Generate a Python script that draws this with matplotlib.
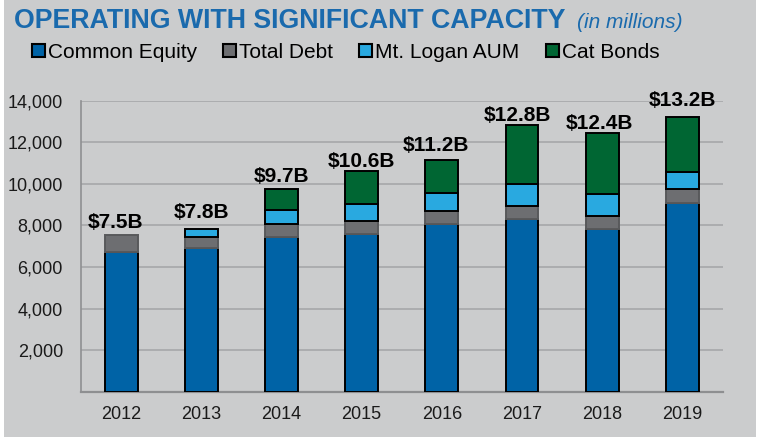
import matplotlib
matplotlib.use("Agg")
import matplotlib.pyplot as plt
from matplotlib.patches import Patch, Rectangle
import numpy as np

plt.rcParams['font.family'] = ['Liberation Sans', 'DejaVu Sans']

# Data (in millions)
years = ['2012', '2013', '2014', '2015', '2016', '2017', '2018', '2019']
common_equity = [6700, 6930, 7430, 7590, 8060, 8330, 7815, 9100]
total_debt = [860, 500, 640, 640, 640, 625, 660, 660]
logan_aum = [0, 400, 690, 805, 880, 1045, 1045, 835]
cat_bonds = [0, 0, 980, 1590, 1575, 2830, 2925, 2620]
total_labels = ['$7.5B', '$7.8B', '$9.7B', '$10.6B', '$11.2B', '$12.8B', '$12.4B', '$13.2B']

series_names = ['Common Equity', 'Total Debt', 'Mt. Logan AUM', 'Cat Bonds']
colors = ['#0063a6', '#6d6e71', '#29a9e0', '#006633']
edge_colors = ['black', '#58595b', 'black', 'black']

# small hand placement of the total labels (pixels)
label_dx = [-6, 0, 0, 0, -6, -5, -2.5, 0]
label_dy = [6.7, 10.7, 7, 3.7, 9.3, 4.7, 4, 11.3]

W, H = 760, 437
fig = plt.figure(figsize=(W / 100, H / 100), dpi=100, facecolor='white')
# gray panel behind everything
fig.patches.append(Rectangle((4 / W, 0), 752 / W, 1, transform=fig.transFigure,
                             facecolor='#cbcccd', edgecolor='none', zorder=-10))

ax = fig.add_axes([81 / W, 1 - 391.5 / H, 641.5 / W, 290.5 / H])
ax.set_facecolor('none')

x = np.arange(len(years))
bottom = np.zeros(len(years))
for vals, c, ec in zip([common_equity, total_debt, logan_aum, cat_bonds], colors, edge_colors):
    vals = np.array(vals, dtype=float)
    keep = vals > 0
    ax.bar(x[keep], vals[keep], bottom=bottom[keep], width=0.41, color=c,
           edgecolor=ec, linewidth=1.4, zorder=3)
    bottom += vals

for i, lab in enumerate(total_labels):
    ax.annotate(lab, (x[i], bottom[i]), xytext=(label_dx[i], label_dy[i]),
                textcoords='offset pixels', ha='center', va='baseline',
                fontsize=15, fontweight='bold', color='black', zorder=4)

ax.set_xlim(-0.5, len(years) - 0.5)
ax.set_ylim(0, 14000)
ax.set_xticks(x)
ax.set_xticklabels(years)
yt = np.arange(2000, 14001, 2000)
ax.set_yticks(yt)
ax.set_yticklabels(['{:,}'.format(v) for v in yt])
ax.tick_params(axis='x', length=0, pad=10.5, labelsize=13, labelcolor='#1a1a1a')
ax.tick_params(axis='y', length=0, pad=13, labelsize=13, labelcolor='#1a1a1a')
ax.grid(axis='y', color='#a6a7a9', linewidth=1.2, zorder=1)
ax.set_axisbelow(True)
for s in ['top', 'right']:
    ax.spines[s].set_visible(False)
ax.spines['left'].set_color('#8e8f91')
ax.spines['left'].set_linewidth(1.2)
ax.spines['bottom'].set_color('#8e8f91')
ax.spines['bottom'].set_linewidth(1.6)

# title
fig.text(14 / W, 1 - 27.5 / H, 'OPERATING WITH SIGNIFICANT CAPACITY', fontsize=19.3,
         fontweight='bold', color='#1a6aad', ha='left', va='baseline')
fig.text(577 / W, 1 - 27.5 / H, '(in millions)', fontsize=15, fontstyle='italic',
         color='#1a6aad', ha='left', va='baseline')

# legend
handles = [Patch(facecolor=c, edgecolor='black', linewidth=1.5) for c in colors]
fig.legend(handles, series_names, loc='center left', bbox_to_anchor=(32 / W, 1 - 52.5 / H),
           ncol=4, frameon=False, fontsize=15, handlelength=0.62, handleheight=0.62,
           handletextpad=0.15, columnspacing=1.25, borderpad=0, borderaxespad=0)

fig.savefig('out.png', dpi=100, facecolor='white')
